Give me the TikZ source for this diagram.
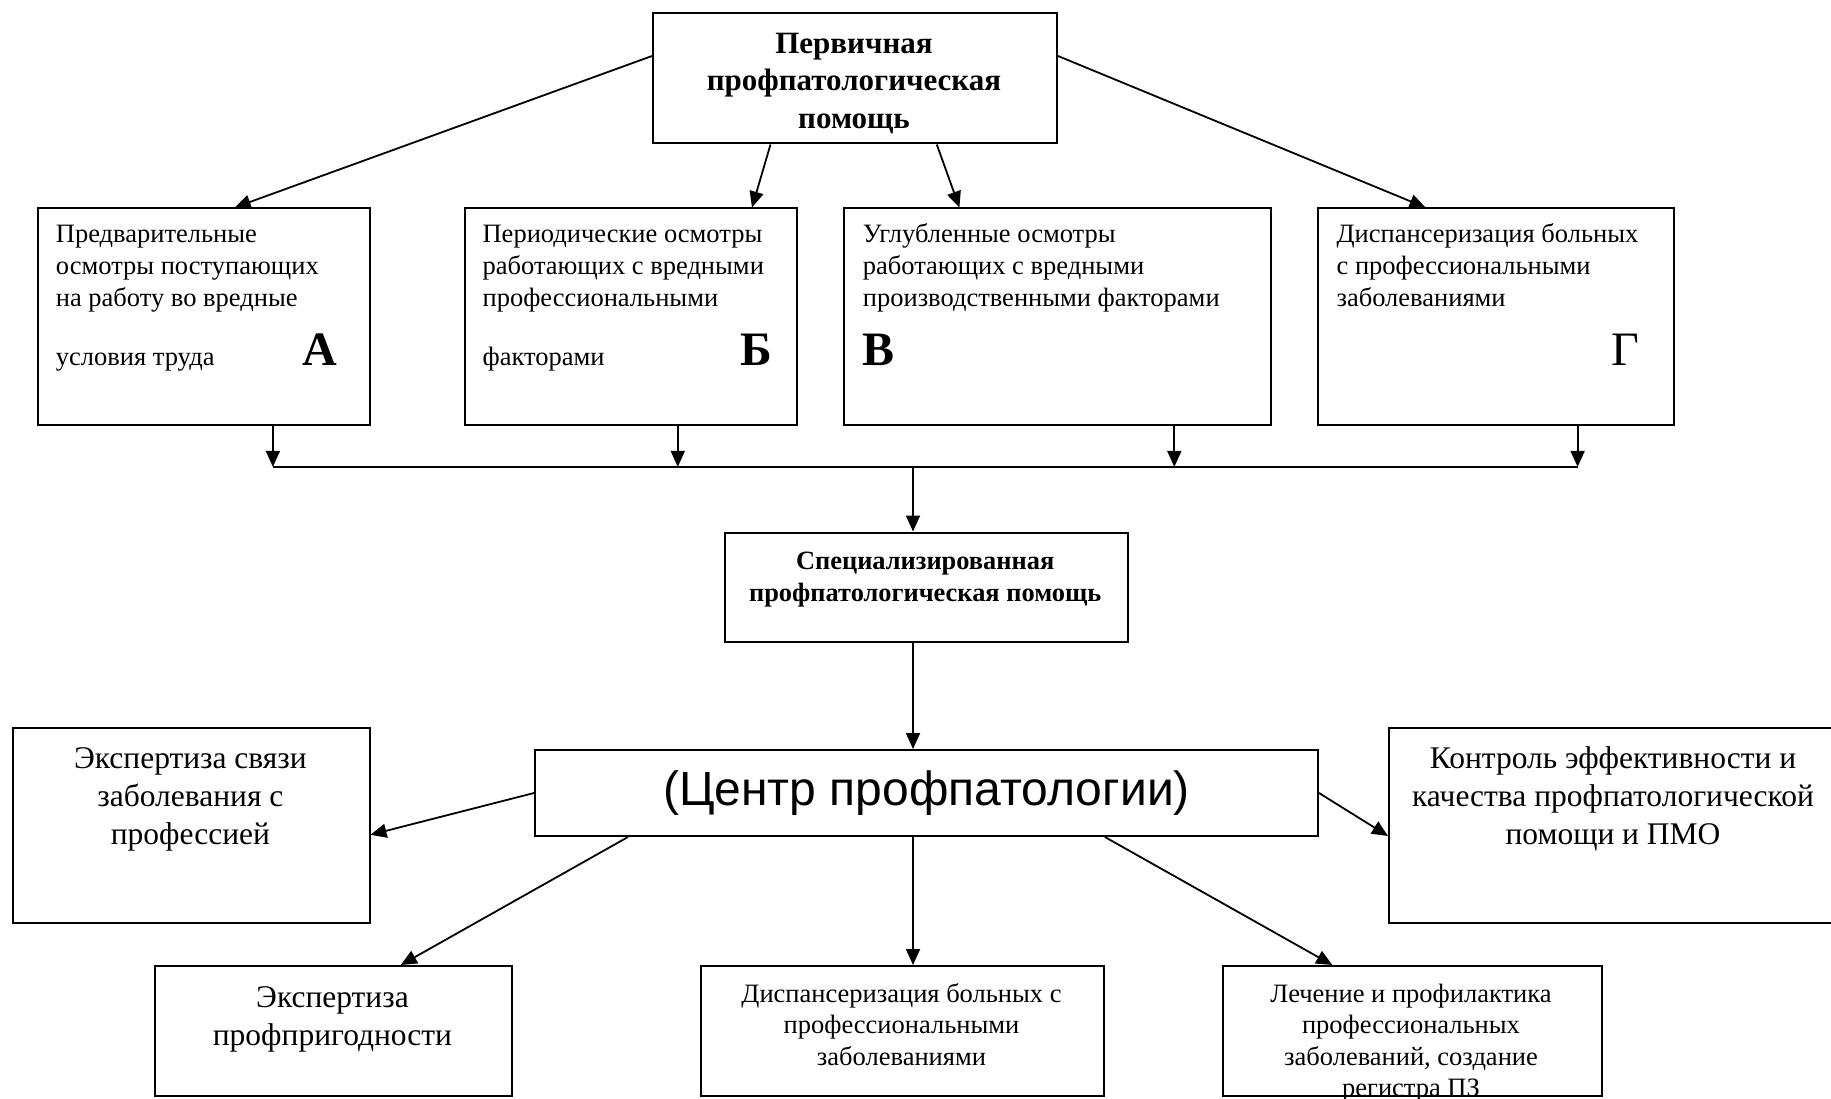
\documentclass[tikz,border=0pt]{standalone}
\usepackage{fontspec}
\setmainfont{Liberation Serif}
\newfontfamily\arialfam{Liberation Sans}
\usetikzlibrary{arrows.meta,calc}
\newcommand\mlines[2]{\begin{tabular}[t]{@{}#1@{}}#2\end{tabular}}
\begin{document}
\begin{tikzpicture}[x=1pt,y=-1pt,
  box/.style={draw, line width=2pt, inner sep=0pt, anchor=north west},
  arr/.style={line width=1.8pt, -{Triangle[length=16pt,width=14pt]}},
  ln/.style={line width=1.8pt},
  fs/.style={font=\fontsize{26.5}{32}\selectfont, inner sep=0pt},
  fss/.style={font=\fontsize{26.5}{31.5}\selectfont, inner sep=0pt},
  fm/.style={font=\fontsize{31.5}{38}\selectfont, inner sep=0pt},
  fb/.style={font=\fontsize{31}{37.5}\selectfont\bfseries, inner sep=0pt},
  fsb/.style={font=\fontsize{26.4}{32.7}\selectfont\bfseries, inner sep=0pt},
  fl/.style={font=\fontsize{48}{56}\selectfont\bfseries, inner sep=0pt},
  flr/.style={font=\fontsize{48}{56}\selectfont, inner sep=0pt}]
\useasboundingbox (0,0) rectangle (1831,1099);

% boxes
\node[box, minimum width=404pt, minimum height=130pt] (top) at (652,12.5) {};
\node[box, minimum width=332pt, minimum height=216.5pt] (A) at (36.5,207.5) {};
\node[box, minimum width=332pt, minimum height=216.5pt] (B) at (463.5,207.5) {};
\node[box, minimum width=427pt, minimum height=216.5pt] (V) at (842.5,207.5) {};
\node[box, minimum width=356pt, minimum height=216.5pt] (G) at (1317,207.5) {};
\node[box, minimum width=403.5pt, minimum height=109pt] (spec) at (723.5,531.5) {};
\node[box, minimum width=783pt, minimum height=86pt,
      font=\arialfam\fontsize{48}{56}\selectfont] (centre) at (534,749) {(Центр профпатологии)};
\node[box, minimum width=356.2pt, minimum height=195pt] (left) at (12.3,726.7) {};
\node[box, minimum width=460pt, minimum height=195pt] (right) at (1388,726.7) {};
\node[box, minimum width=356.3pt, minimum height=130pt] (bl) at (154.3,965) {};
\node[box, minimum width=403pt, minimum height=130pt] (bm) at (700,965) {};
\node[box, minimum width=379pt, minimum height=130pt] (br) at (1222,965) {};

% texts
\node[fb, anchor=base] (ttop) at (854,53.5) {\mlines{c}{Первичная\\профпатологическая\\помощь}};
\node[fs, anchor=base west] (tA) at (55.7,243) {\mlines{l}{Предварительные\\осмотры поступающих\\на работу во вредные}};
\node[fs, anchor=base west] (tA2) at (55.7,365) {условия труда};
\node[fl, anchor=base west] (lA) at (302,365) {А};
\node[fs, anchor=base west] (tB) at (482.4,243) {\mlines{l}{Периодические осмотры\\работающих с вредными\\профессиональными}};
\node[fs, anchor=base west] (tB2) at (482.4,365) {факторами};
\node[fl, anchor=base west] (lB) at (740.6,365) {Б};
\node[fs, anchor=base west] (tV) at (862.7,243) {\mlines{l}{Углубленные осмотры\\работающих с вредными\\производственными факторами}};
\node[fl, anchor=base west] (lV) at (862.7,365) {В};
\node[fs, anchor=base west] (tG) at (1336.4,243) {\mlines{l}{Диспансеризация больных\\с профессиональными\\заболеваниями}};
\node[flr, anchor=base west] (lG) at (1610.8,365) {Г};
\node[fsb, anchor=base] (tspec) at (925.2,569) {\mlines{c}{Специализированная\\профпатологическая помощь}};
\node[fm, anchor=base] (tleft) at (190.4,768) {\mlines{c}{Экспертиза связи\\заболевания с\\профессией}};
\node[fm, anchor=base] (tright) at (1613,768) {\mlines{c}{Контроль эффективности и\\качества профпатологической\\помощи и ПМО}};
\node[fm, anchor=base] (tbl) at (332.5,1007) {\mlines{c}{Экспертиза\\профпригодности}};
\node[fss, anchor=base] (tbm) at (901.5,1002) {\mlines{c}{Диспансеризация больных с\\профессиональными\\заболеваниями}};
\node[fss, anchor=base] (tbr) at (1411,1002) {\mlines{c}{Лечение и профилактика\\профессиональных\\заболеваний, создание\\регистра ПЗ}};

% connectors from top
\draw[arr] ([yshift=-43.5pt]top.north west) -- ([xshift=198.2pt]A.north west);
\draw[arr] ([xshift=118.5pt]top.south west) -- ([xshift=288.5pt]B.north west);
\draw[arr] ([xshift=284.8pt]top.south west) -- ([xshift=116.9pt]V.north west);
\draw[arr] ([yshift=-43.5pt]top.north east) -- ([xshift=108.5pt]G.north west);

% bus
\coordinate (busL) at (272.9,466.9);
\coordinate (busB) at (677.8,466.9);
\coordinate (busM) at (913,466.9);
\coordinate (busV) at (1174.3,466.9);
\coordinate (busR) at (1577.6,466.9);
\draw[ln] (busL) -- (busR);
\draw[arr] (busL |- A.south) -- (busL);
\draw[arr] (busB |- B.south) -- (busB);
\draw[arr] (busV |- V.south) -- (busV);
\draw[arr] (busR |- G.south) -- (busR);
\draw[arr] (busM) -- (busM |- spec.north);
\draw[arr] (busM |- spec.south) -- (busM |- centre.north);

% from centre
\draw[arr] (centre.west) -- ([yshift=-9.6pt]left.east);
\draw[arr] (centre.east) -- ([yshift=-10.8pt]right.west);
\draw[arr] ([xshift=94pt]centre.south west) -- ([xshift=246.5pt]bl.north west);
\draw[arr] (busM |- centre.south) -- (busM |- bm.north);
\draw[arr] ([xshift=570.9pt]centre.south west) -- ([xshift=110.3pt]br.north west);
\end{tikzpicture}
\end{document}
